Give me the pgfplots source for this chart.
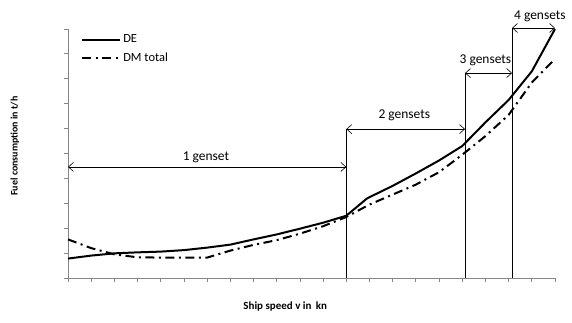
\documentclass[border=0pt]{standalone}
\usepackage{fontspec}
\setmainfont{Carlito}
\usepackage{pgfplots}
\pgfplotsset{compat=1.18}
\usetikzlibrary{arrows.meta}
\definecolor{axgray}{RGB}{134,134,134}
\begin{document}
\begin{tikzpicture}
\begin{axis}[
  scale only axis,
  width=487bp, height=249bp,
  xmin=0, xmax=21, ymin=0, ymax=10,
  axis x line*=bottom, axis y line*=left,
  axis line style={axgray, line width=0.8bp},
  xtick={0,...,21}, ytick={0,...,10},
  xticklabels={}, yticklabels={},
  tick style={axgray, line width=0.8bp},
  tick align=outside, major tick length=4bp,
  clip=false,
  xlabel={Ship speed v in\, kn},
  ylabel={Fuel consumption in t/h},
  xlabel style={at={(axis description cs:0.446,-0.116)}, anchor=center, font=\fontsize{11}{12}\selectfont\bfseries},
  ylabel style={at={(axis description cs:-0.109,0.53)}, anchor=center, font=\fontsize{10}{12}\selectfont\bfseries},
  legend style={draw=none, fill=none, at={(axis description cs:0.027,0.985)}, anchor=north west,
    font=\fontsize{12.5}{14}\selectfont, row sep=4.5bp, inner sep=0pt},
  legend cell align=left,
  legend image code/.code={\draw[#1] (0bp,0bp) -- (38bp,0bp);},
]
\addplot[black, line width=2bp] coordinates {
(0,0.78) (1,0.9) (2,0.99) (3,1.03) (4,1.06) (5,1.12) (6,1.22) (7,1.34)
(8,1.55) (9,1.75) (10,1.98) (11,2.22) (12,2.5) (12.9,3.2) (14,3.7) (15,4.2)
(16,4.72) (17,5.3) (18,6.25) (19,7.15) (20,8.3) (21,10.0)};
\addlegendentry{DE}
\addplot[black, line width=2bp, dash pattern=on 9bp off 4.5bp on 2bp off 4.5bp] coordinates {
(0,1.55) (1,1.2) (2,0.95) (3,0.83) (4,0.82) (5,0.82) (6,0.82) (7,1.1)
(8,1.33) (9,1.52) (10,1.78) (11,2.08) (12,2.45) (13,2.95) (14,3.35) (15,3.75)
(16,4.25) (17,4.95) (18,5.7) (19,6.55) (20,7.85) (21,8.8)};
\addlegendentry{DM total}
% genset regions
\draw[black, line width=0.6bp] (axis cs:12,0) -- (axis cs:12,5.98);
\draw[black, line width=0.6bp] (axis cs:17.12,0) -- (axis cs:17.12,8.23);
\draw[black, line width=0.6bp] (axis cs:19.15,0) -- (axis cs:19.15,10.04);
\draw[black, line width=0.6bp, {Straight Barb[length=5bp,width=9bp]}-{Straight Barb[length=5bp,width=9bp]}] (axis cs:0,4.46) -- (axis cs:12,4.46);
\draw[black, line width=0.6bp, {Straight Barb[length=5bp,width=9bp]}-{Straight Barb[length=5bp,width=9bp]}] (axis cs:12,5.98) -- (axis cs:17.12,5.98);
\draw[black, line width=0.6bp, {Straight Barb[length=5bp,width=9bp]}-{Straight Barb[length=5bp,width=9bp]}] (axis cs:17.12,8.23) -- (axis cs:19.15,8.23);
\draw[black, line width=0.6bp, {Straight Barb[length=5bp,width=9bp]}-{Straight Barb[length=5bp,width=9bp]}] (axis cs:19.15,10.04) -- (axis cs:21,10.04);
\node[font=\fontsize{13.5}{14}\selectfont] at (axis cs:5.95,4.86) {1 genset};
\node[font=\fontsize{13.5}{14}\selectfont] at (axis cs:14.5,6.55) {2 gensets};
\node[font=\fontsize{13.5}{14}\selectfont] at (axis cs:18.0,8.76) {3 gensets};
\node[font=\fontsize{13.5}{14}\selectfont] at (axis cs:20.35,10.52) {4 gensets};
\end{axis}
\pgfresetboundingbox
\path[use as bounding box] (-68bp,-45bp) rectangle (504bp,278bp);
\end{tikzpicture}
\end{document}
